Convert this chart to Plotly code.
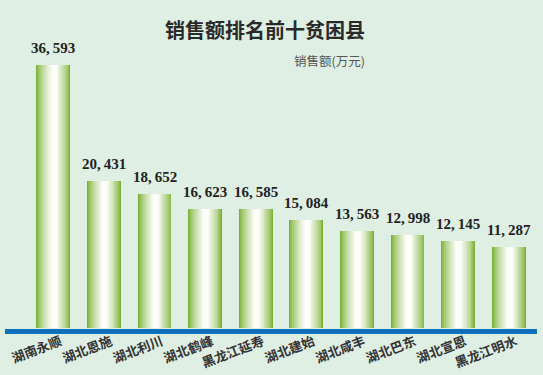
import plotly.graph_objects as go

categories = ["湖南永顺", "湖北恩施", "湖北利川", "湖北鹤峰", "黑龙江延寿",
              "湖北建始", "湖北咸丰", "湖北巴东", "湖北宣恩", "黑龙江明水"]
sales = [36593, 20431, 18652, 16623, 16585, 15084, 13563, 12998, 12145, 11287]

title_text = "销售额排名前十贫困县"
unit_text = "销售额(万元)"

W, H = 543, 375
ml, mr, mt, mb = 28, 9, 40, 47
plot_h = H - mt - mb
ymax = max(sales) * plot_h / 263.0

fig = go.Figure()

# gradient bars via nested overlay bars
green = (122, 176, 52)
white = (253, 254, 250)
N = 16
bar_w = 0.67
shift = 0.015
for k in range(N):
    t = k / (N - 1)
    frac = 1 - t * 0.85
    w = bar_w * frac
    tt = t ** 0.75
    c = tuple(int(green[i] + (white[i] - green[i]) * tt) for i in range(3))
    fig.add_trace(go.Bar(
        x=categories, y=sales,
        width=w, offset=-w / 2 + shift * t,
        marker=dict(color="rgb(%d,%d,%d)" % c, line=dict(width=0)),
        showlegend=False, hoverinfo="skip",
    ))

annotations = [
    dict(text=f"{v:,}".replace(",", ",\u2009"), x=c, y=v, xref="x", yref="y",
         yshift=17, xanchor="center", yanchor="middle", showarrow=False,
         font=dict(family="Liberation Serif", size=15, color="#222", weight="bold"))
    for c, v in zip(categories, sales)
]
annotations += [
    dict(text=title_text, xref="paper", yref="paper",
         x=(265 - ml) / (W - ml - mr), y=(H - mb - 29) / plot_h,
         xanchor="center", yanchor="middle", showarrow=False,
         font=dict(family="Noto Sans CJK SC", size=20, color="#2a2a2a", weight="bold")),
    dict(text=unit_text, xref="paper", yref="paper",
         x=(367 - ml) / (W - ml - mr), y=(H - mb - 61) / plot_h,
         xanchor="right", yanchor="middle", showarrow=False,
         font=dict(family="Noto Sans CJK SC", size=12.5, color="#555")),
]

fig.update_layout(
    width=W, height=H,
    margin=dict(l=ml, r=mr, t=mt, b=mb),
    paper_bgcolor="#dfefe3", plot_bgcolor="#dfefe3",
    barmode="overlay", bargap=0,
    xaxis=dict(showgrid=False, zeroline=False, showline=False, ticks="",
               tickangle=-21, automargin=False, ticklabelstandoff=3,
               ticklabelshift=7,
               tickfont=dict(family="Noto Sans CJK SC", size=13, color="#333", weight="bold")),
    yaxis=dict(range=[0, ymax], visible=False, automargin=False),
    shapes=[dict(type="rect", xref="paper", yref="paper",
                 x0=(5 - ml) / (W - ml - mr), x1=(537 - ml) / (W - ml - mr),
                 y0=-6 / plot_h, y1=-1 / plot_h,
                 fillcolor="#0a72bd", line=dict(width=0))],
    annotations=annotations,
)

fig.write_html("out.html", config={"displayModeBar": False},
               post_script="document.body.style.margin='0';document.body.style.background='#dfefe3';")
